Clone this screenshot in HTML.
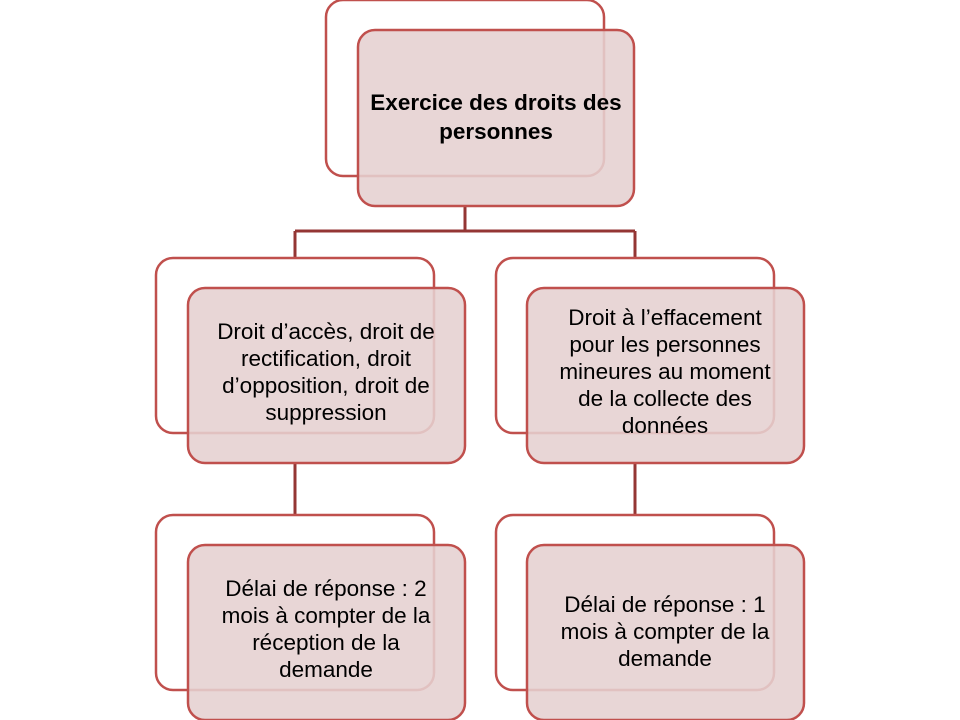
<!DOCTYPE html>
<html><head><meta charset="utf-8"><style>
html,body{margin:0;padding:0;background:#fff;}
svg{display:block;}
text{font-family:"Liberation Sans",sans-serif;font-size:22.5px;fill:#000;text-anchor:middle;}
</style></head><body>
<svg width="960" height="720" viewBox="0 0 960 720">
<g fill="none" stroke="#943634" stroke-width="3">
<path d="M465 206 V231 M295 231 H635 M295 231 V258 M635 231 V258 M295 463 V514 M635 463 V514"/>
</g>
<g fill="#fff" stroke="#c0504d" stroke-width="2.5">
<rect x="326" y="0" width="278" height="176" rx="17" fill="none"/>
<rect x="156" y="258" width="278" height="175" rx="17"/>
<rect x="496" y="258" width="278" height="175" rx="17"/>
<rect x="156" y="515" width="278" height="175" rx="17"/>
<rect x="496" y="515" width="278" height="175" rx="17"/>
</g>
<g fill="#e5d0d0" fill-opacity="0.88" stroke="#c0504d" stroke-width="2.5">
<rect x="358" y="30" width="276" height="176" rx="17"/>
<rect x="188" y="288" width="277" height="175" rx="17"/>
<rect x="527" y="288" width="277" height="175" rx="17"/>
<rect x="188" y="545" width="277" height="175" rx="17"/>
<rect x="527" y="545" width="277" height="175" rx="17"/>
</g>
<text x="496" y="110" style="font-weight:bold">Exercice des droits des</text>
<text x="496" y="139" style="font-weight:bold">personnes</text>
<text x="326" y="339">Droit d’accès, droit de</text>
<text x="326" y="366">rectification, droit</text>
<text x="326" y="393">d’opposition, droit de</text>
<text x="326" y="420">suppression</text>
<text x="665" y="325">Droit à l’effacement</text>
<text x="665" y="352">pour les personnes</text>
<text x="665" y="379">mineures au moment</text>
<text x="665" y="406">de la collecte des</text>
<text x="665" y="433">données</text>
<text x="326" y="596">Délai de réponse : 2</text>
<text x="326" y="623">mois à compter de la</text>
<text x="326" y="650">réception de la</text>
<text x="326" y="677">demande</text>
<text x="665" y="612">Délai de réponse : 1</text>
<text x="665" y="639">mois à compter de la</text>
<text x="665" y="666">demande</text>
</svg>
</body></html>
